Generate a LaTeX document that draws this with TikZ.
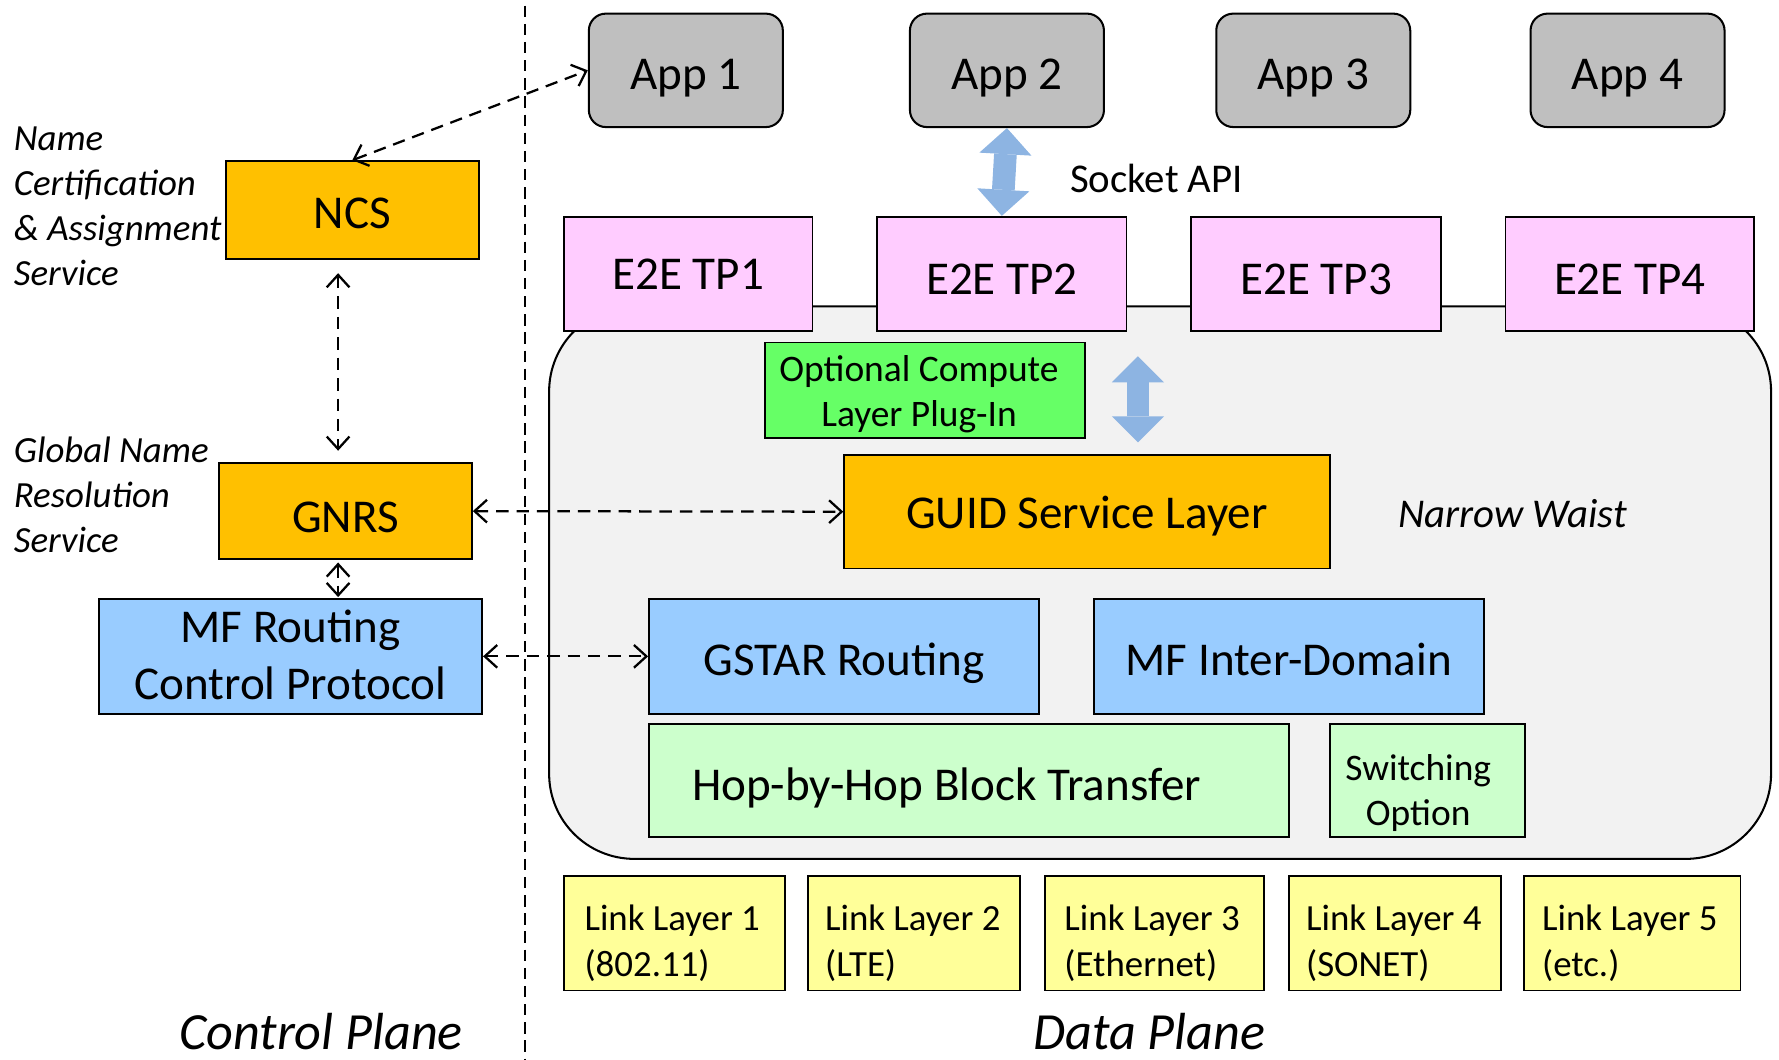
\documentclass[tikz,border=0pt]{standalone}
\usepackage{fontspec}
\setmainfont{Carlito}
\usetikzlibrary{arrows.meta,calc}
\definecolor{appgray}{HTML}{BFBFBF}
\definecolor{orng}{HTML}{FFC000}
\definecolor{tppink}{HTML}{FFCCFF}
\definecolor{lblue}{HTML}{99CCFF}
\definecolor{bgreen}{HTML}{66FF66}
\definecolor{lgreen}{HTML}{CCFFCC}
\definecolor{lyellow}{HTML}{FFFF99}
\definecolor{waistbg}{HTML}{F2F2F2}
\definecolor{arrowblue}{HTML}{8DB4E2}
\newcommand\myBig{\fontsize{41.5}{50}\selectfont}
\newcommand\myMid{\fontsize{36}{42}\selectfont}
\newcommand\mySmall{\fontsize{33}{40}\selectfont}
\newcommand\myLab{\fontsize{32.5}{39.5}\selectfont}
\newcommand\myLink{\fontsize{32.5}{40}\selectfont}
\newcommand\myHuge{\fontsize{46}{55}\selectfont}
\begin{document}
\begin{tikzpicture}[x=1pt,y=-1pt,
  box/.style={draw=black, line width=1.5pt, inner sep=0pt, text depth=0pt},
  appbox/.style={box, fill=appgray, rounded corners=15pt, line width=1.8pt,
    minimum width=171pt, minimum height=100pt, font=\myBig, text height=33pt},
  tpbox/.style={box, fill=tppink, minimum width=220pt, minimum height=101pt, font=\myBig, text height=35.5pt},
  linkbox/.style={box, fill=lyellow, minimum height=101pt, font=\myLink, text height=76pt},
  darrow/.style={line width=2pt, dash pattern=on 11pt off 7pt,
    {Straight Barb[length=11pt,width=20pt]}-{Straight Barb[length=11pt,width=20pt]}},
  blockarrow/.style={draw=arrowblue, line width=20pt,
    {Triangle[length=23pt,width=46pt,line width=0pt]}-{Triangle[length=23pt,width=46pt,line width=0pt]}},
  lab/.style={inner sep=0pt, font=\myLab\itshape}
]
\useasboundingbox (0,0) rectangle (1568,934);

% plane separator
\draw[line width=1.5pt, dash pattern=on 10pt off 6pt] (463,5) -- (463,934);

% narrow waist background
\node[draw=black, line width=1.8pt, fill=waistbg, rounded corners=75pt,
  minimum width=1077pt, minimum height=487pt, inner sep=0pt] (waist) at (1022.5,513.5) {};

% applications
\node[appbox] (app1) at (604.5,62) {App 1};
\node[appbox] (app2) at (887.5,62) {App 2};
\node[appbox] (app3) at (1157.5,62) {App 3};
\node[appbox] (app4) at (1434.5,62) {App 4};

% transport protocols
\node[tpbox, minimum width=219pt, text height=28pt] (tp1) at (606.5,241.5) {E2E TP1};
\node[tpbox] (tp2) at (883,241.5) {E2E TP2};
\node[tpbox] (tp3) at (1160,241.5) {E2E TP3};
\node[tpbox, minimum width=219pt] (tp4) at (1436.5,241.5) {E2E TP4};

% socket API arrow
\draw[blockarrow] (app2.south) -- (tp2.north);
\node[anchor=west, inner sep=0pt, font=\myMid] (sock) at (943,157) {Socket API};

% waist internals
\node[box, fill=bgreen, minimum width=282pt, minimum height=84pt,
  font=\fontsize{33}{39}\selectfont, text height=63pt] (ocl) at (815,344)
  {\begin{tabular}[b]{@{}c@{\hspace{10pt}}}Optional Compute\\Layer Plug-In\end{tabular}};
\node[box, fill=orng, minimum width=428pt, minimum height=100pt, font=\myBig, text height=30pt] (guid) at (958,451) {GUID Service Layer};
\coordinate (ba1) at (1003,314);
\coordinate (ba2) at (1003,390);
\draw[blockarrow] (ba1) -- (ba2);
\node[inner sep=0pt, font=\myMid\itshape] (nw) at (1333,453) {Narrow Waist};

\node[box, fill=lblue, minimum width=344pt, minimum height=101pt, font=\myBig, text height=34pt] (gstar) at (744,578.5) {GSTAR Routing};
\node[box, fill=lblue, minimum width=344pt, minimum height=101pt, font=\myBig, text height=34pt] (mfid) at (1136,578.5) {MF Inter-Domain};
\node[box, fill=lgreen, minimum width=564pt, minimum height=100pt, inner xsep=38pt,
  text width=488pt, align=flush left, font=\myBig, text height=35pt] (hop) at (854,688) {Hop-by-Hop Block Transfer};
\node[box, fill=lgreen, minimum width=172pt, minimum height=100pt, font=\mySmall, text height=79pt] (sw) at (1258,688)
  {\begin{tabular}[b]{@{}c@{\hspace{16pt}}}Switching\\Option\end{tabular}};

% link layers
\node[linkbox, minimum width=195pt] (ll1) at (594.5,822.5) {\begin{tabular}[b]{@{}l@{\hspace{4pt}}}Link Layer 1\\(802.11)\end{tabular}};
\node[linkbox, minimum width=187pt] (ll2) at (805.5,822.5) {\begin{tabular}[b]{@{}l@{\hspace{2pt}}}Link Layer 2\\(LTE)\end{tabular}};
\node[linkbox, minimum width=193pt] (ll3) at (1017.5,822.5) {\begin{tabular}[b]{@{}l@{\hspace{4pt}}}Link Layer 3\\(Ethernet)\end{tabular}};
\node[linkbox, minimum width=187pt] (ll4) at (1229.5,822.5) {\begin{tabular}[b]{@{}l@{\hspace{2pt}}}Link Layer 4\\(SONET)\end{tabular}};
\node[linkbox, minimum width=191pt] (ll5) at (1438.5,822.5) {\begin{tabular}[b]{@{}l@{\hspace{4pt}}}Link Layer 5\\(etc.)\end{tabular}};

% control plane
\node[box, fill=orng, minimum width=223pt, minimum height=86pt, font=\myBig, text height=33pt] (ncs) at (310.5,185) {NCS};
\node[box, fill=orng, minimum width=223pt, minimum height=85pt, font=\myBig, text height=38pt] (gnrs) at (304.5,450.5) {GNRS};
\node[box, fill=lblue, minimum width=338pt, minimum height=101pt, font=\myBig, text height=76pt] (mfr) at (256,578.5)
  {\begin{tabular}[b]{@{}c@{}}MF Routing\\Control Protocol\end{tabular}};

\node[lab, anchor=base west] (ncslab) at (12,133)
  {\begin{tabular}[t]{@{}l@{}}Name\\Certification\\\& Assignment\\Service\end{tabular}};
\node[lab, anchor=base west] (gnrslab) at (12,408)
  {\begin{tabular}[t]{@{}l@{}}Global Name\\Resolution\\Service\end{tabular}};

% control connections
\coordinate (cx) at (298,0);
\draw[darrow] (ncs.north) -- (app1.west);
\draw[darrow, shorten <=12pt, shorten >=10pt] (ncs.south -| cx) -- (gnrs.north -| cx);
\draw[darrow, shorten <=2pt, shorten >=1pt] (gnrs.south -| cx) -- (mfr.north -| cx);
\draw[darrow] (gnrs.east) -- (guid.west);
\draw[darrow] (mfr.east) -- (gstar.west);

% plane titles
\node[anchor=base, inner sep=0pt, font=\myHuge\itshape] (cplane) at (283,925) {Control Plane};
\node[anchor=base, inner sep=0pt, font=\myHuge\itshape] (dplane) at (1013,925) {Data Plane};
\end{tikzpicture}
\end{document}
